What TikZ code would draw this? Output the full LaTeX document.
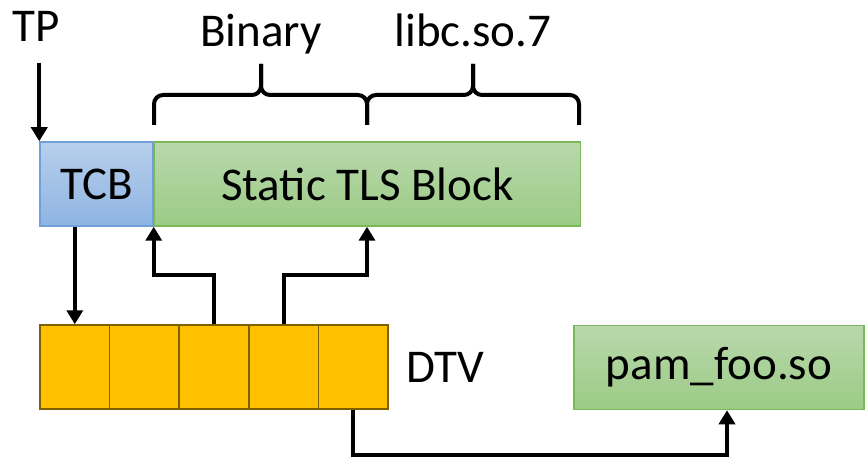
\documentclass[tikz,border=0pt]{standalone}
\usepackage{fontspec}
\setmainfont{Carlito}
\usetikzlibrary{arrows.meta,positioning}
\definecolor{tcbtop}{HTML}{B7CFEB}
\definecolor{tcbbot}{HTML}{8EB4E3}
\definecolor{tcbline}{HTML}{6FA0DC}
\definecolor{modtop}{HTML}{B9D8AC}
\definecolor{modbot}{HTML}{9BCB85}
\definecolor{modline}{HTML}{7CB85A}
\definecolor{dtvfill}{HTML}{FFC000}
\definecolor{dtvline}{HTML}{7F6000}

\begin{document}
\begin{tikzpicture}[x=1pt, y=-1pt,
	every node/.style={font=\fontsize{47}{56}\selectfont},
	box/.style={draw, line width=1.5pt, inner sep=0pt, minimum height=84pt},
	tcbbox/.style={box, draw=tcbline, top color=tcbtop, bottom color=tcbbot},
	modbox/.style={box, draw=modline, top color=modtop, bottom color=modbot},
	dtvcell/.style={box, draw=dtvline, fill=dtvfill, minimum width=69.6pt},
	ptr/.style={line width=4pt, -{Triangle[length=14pt, width=16pt]}},
	bracket/.style={line width=4pt, rounded corners=9pt}]
	\useasboundingbox (0,0) rectangle (865,457);
	\node[tcbbox, minimum width=113pt] (tcb) at (96.5,184) {TCB};
	\node[modbox, minimum width=426pt, right=0pt of tcb] (stls) {Static TLS Block};
	\coordinate (split) at (367,142);
	\node[anchor=base] (tp) at (36,42) {TP};
	\draw[ptr, shorten <=17pt] (tp.south -| tcb.north west) -- (tcb.north west);
	\foreach \a/\m/\b/\txt/\nm in {154/261/367/Binary/binary, 367/473/579/libc.so.7/libc} {
		\draw[bracket] (\a,125) |- (\m,95) -- (\m,64);
		\draw[bracket] (\m,64) -- (\m,95) -| (\b,125);
		\node[anchor=base] (\nm) at (\m,47) {\txt};
	}
	\foreach \i in {1,...,5} \node[dtvcell] (dtv\i) at ({40+69.6*(\i-0.5)},367) {};
	\node[right=14pt of dtv5] (dtvname) {DTV};
	\node[modbox, minimum width=290pt] (pam) at (719,367.5) {pam\_foo.so};
	\draw[ptr] (tcb.south -| dtv1.north) -- (dtv1.north);
	\draw[ptr] (dtv3.north) -- ++(0,-49) -| (stls.south west);
	\draw[ptr] (dtv4.north) -- ++(0,-49) -| (split |- stls.south);
	\draw[ptr] (dtv5.south) -- ++(0,45) -| ([xshift=8pt]pam.south);
\end{tikzpicture}
\end{document}
